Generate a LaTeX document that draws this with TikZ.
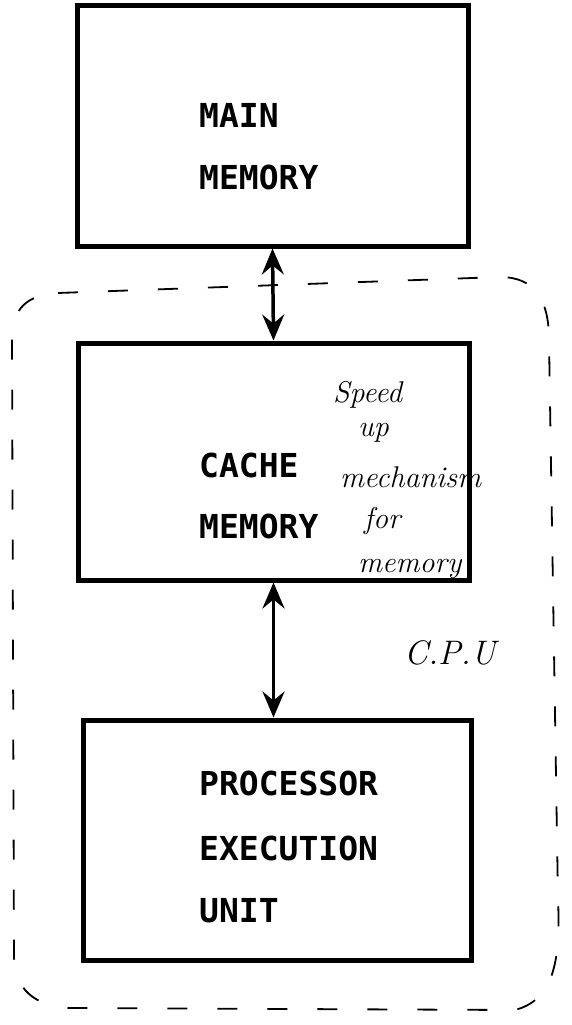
\documentclass[tikz,border=0pt]{standalone}
\usepackage{fontspec}
\newfontfamily\plotfont{DejaVu Sans Mono}
\usetikzlibrary{arrows.meta}
\begin{document}
\begin{tikzpicture}[x=1pt,y=-1pt,
  box/.style={draw, line width=5pt, inner sep=0pt},
  lbl/.style={font=\plotfont\bfseries\fontsize{33}{40}\selectfont, anchor=base west, inner sep=0pt},
  hand/.style={font=\itshape\fontsize{30}{34}\selectfont, anchor=base west, inner sep=0pt},
  link/.style={line width=3.5pt, {Stealth[length=26pt,width=22pt,inset=9pt]}-{Stealth[length=26pt,width=22pt,inset=9pt]}},
  cpu/.style={line width=1.8pt, dash pattern=on 20pt off 30pt}]
\useasboundingbox (0,0) rectangle (571,1025);
\fill[white] (0,0) rectangle (571,1025);
% CPU boundary
\draw[cpu] (58,293) -- (500,277) .. controls (535,277) and (549,300) .. (549,340)
  -- (558,900) .. controls (561,965) and (552,1000) .. (515,1010)
  -- (70,1008) .. controls (35,1006) and (14,990) .. (14,955)
  -- (12,340) .. controls (12,310) and (25,295) .. (58,293);
% boxes
\node[box, minimum width=391pt, minimum height=240pt] (main) at (272.5,126) {};
\node[box, minimum width=391pt, minimum height=237pt] (cache) at (273.5,461.5) {};
\node[box, minimum width=388pt, minimum height=240pt] (proc) at (277,840) {};
% labels
\node[lbl] (m1) at (199,127) {MAIN};
\node[lbl] (m2) at (199,189) {MEMORY};
\node[lbl] (c1) at (199,477) {CACHE};
\node[lbl] (c2) at (199,538) {MEMORY};
\node[lbl] (p1) at (199,795) {PROCESSOR};
\node[lbl] (p2) at (199,860) {EXECUTION};
\node[lbl] (p3) at (199,922) {UNIT};
% connectors
\draw[link] (main.south) -- (cache.north);
\draw[link] (cache.south) -- (cache.south |- proc.north);
% handwritten notes
\node[hand] (h1) at (333,402) {Speed};
\node[hand] (h2) at (358,436) {up};
\node[hand] (h3) at (340,487) {mechanism};
\node[hand] (h4) at (364,528) {for};
\node[hand] (h5) at (358,572) {memory};
\node[hand, font=\itshape\fontsize{34}{38}\selectfont] (cpulbl) at (404,664) {C.P.U};
\end{tikzpicture}
\end{document}
